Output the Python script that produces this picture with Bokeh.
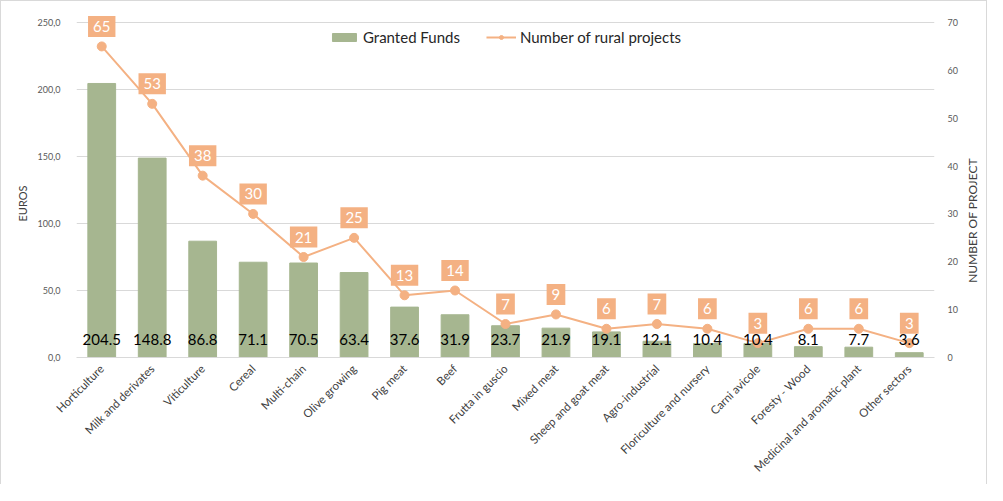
import math
from bokeh.plotting import figure
from bokeh.layouts import row
from bokeh.models import (Range1d, LinearAxis, ColumnDataSource, Legend, LegendItem, FixedTicker,
                          CustomJSTickFormatter, Label)
from bokeh.core.properties import value
from bokeh.embed import file_html
from bokeh.resources import INLINE

categories = ["Horticulture", "Milk and derivates", "Viticulture", "Cereal", "Multi-chain",
              "Olive growing", "Pig meat", "Beef", "Frutta in guscio", "Mixed meat",
              "Sheep and goat meat", "Agro-industrial", "Floriculture and nursery",
              "Carni avicole", "Foresty - Wood", "Medicinal and aromatic plant", "Other sectors"]
granted_funds = [204.5, 148.8, 86.8, 71.1, 70.5, 63.4, 37.6, 31.9, 23.7, 21.9, 19.1, 12.1,
                 10.4, 10.4, 8.1, 7.7, 3.6]
rural_projects = [65, 53, 38, 30, 21, 25, 13, 14, 7, 9, 6, 7, 6, 3, 6, 6, 3]
left_ticks = [0, 50, 100, 150, 200, 250]
right_ticks = [0, 10, 20, 30, 40, 50, 60, 70]
left_title = "EUROS"
right_title = "NUMBER OF PROJECT"

FONT = "Lato"
BAR = "#A6B690"
ORANGE = "#F4B183"
H = 483

# headroom above the top tick so the topmost data label box is not clipped
LEFT_MAX, RIGHT_MAX = 250, 70
PLOT_PX = 349.0 - 14.0
HEAD_PX = 14.0

src = ColumnDataSource(dict(
    cat=categories,
    funds=granted_funds,
    funds_lbl=[f"{v:.1f}" for v in granted_funds],
    zero=[0] * len(categories),
    proj=rural_projects,
    proj_lbl=[str(v) for v in rural_projects],
))

p = figure(x_range=categories,
           y_range=Range1d(0, LEFT_MAX * (1 + HEAD_PX / PLOT_PX)),
           width=926, height=H,
           output_backend="svg", toolbar_location=None,
           min_border_left=35, min_border_right=21, min_border_top=7, min_border_bottom=127)
p.outline_line_color = None
p.background_fill_color = "white"
p.border_fill_color = "white"

p.extra_y_ranges = {"proj": Range1d(0, RIGHT_MAX * (1 + HEAD_PX / PLOT_PX))}

ya = p.yaxis[0]
ya.ticker = FixedTicker(ticks=left_ticks)
ya.formatter = CustomJSTickFormatter(code="return tick.toFixed(1).replace('.', ',');")
ya.axis_line_color = None
ya.major_tick_line_color = None
ya.minor_tick_line_color = None
ya.major_label_text_font = FONT
ya.major_label_text_font_size = "9px"
ya.major_label_text_color = "#595959"
ya.major_label_standoff = 10

ra = LinearAxis(y_range_name="proj", ticker=FixedTicker(ticks=right_ticks))
ra.axis_line_color = None
ra.major_tick_line_color = None
ra.minor_tick_line_color = None
ra.major_label_text_font = FONT
ra.major_label_text_font_size = "9px"
ra.major_label_text_color = "#595959"
ra.major_label_standoff = 7
p.add_layout(ra, "right")

xa = p.xaxis[0]
xa.major_label_orientation = math.pi / 4
xa.major_label_text_font = FONT
xa.major_label_text_font_size = "11.5px"
xa.major_label_text_color = "#404040"
xa.axis_line_color = "#d9d9d9"
xa.major_tick_line_color = None
xa.minor_tick_line_color = None
xa.major_label_standoff = 3

p.xgrid.grid_line_color = None
p.ygrid.grid_line_color = "#d9d9d9"
p.ygrid.grid_line_width = 1

bars = p.vbar(x="cat", top="funds", width=0.55, source=src, fill_color=BAR, line_color=BAR)

ln = p.line(x="cat", y="proj", source=src, y_range_name="proj", line_color=ORANGE, line_width=2)
pts = p.scatter(x="cat", y="proj", source=src, y_range_name="proj", size=9,
                fill_color=ORANGE, line_color=ORANGE)

p.text(x="cat", y="proj", text="proj_lbl", source=src, y_range_name="proj", y_offset=-20,
       text_align="center", text_baseline="middle", text_font=value(FONT),
       text_font_size="15px", text_color="white",
       background_fill_color=ORANGE, padding=5)

p.text(x="cat", y="zero", text="funds_lbl", source=src, y_offset=-18,
       text_align="center", text_baseline="middle", text_font=value(FONT),
       text_font_size="15px", text_color="black")

legend = Legend(items=[LegendItem(label="Granted Funds", renderers=[bars]),
                       LegendItem(label="Number of rural projects", renderers=[ln, pts])],
                orientation="horizontal", location="top_center",
                background_fill_alpha=0, border_line_color=None,
                label_text_font=FONT, label_text_font_size="15px", label_text_color="#262626",
                glyph_width=30, glyph_height=10, spacing=26, label_standoff=4,
                margin=20, padding=4)
p.add_layout(legend)


def title_strip(width, text, x, y, size):
    s = figure(width=width, height=H, output_backend="svg", toolbar_location=None,
               x_range=Range1d(0, 1), y_range=Range1d(0, 1),
               x_axis_type=None, y_axis_type=None, min_border=0)
    s.grid.visible = False
    s.outline_line_color = None
    s.border_fill_color = "white"
    s.add_layout(Label(x=x, y=y, x_units="screen", y_units="screen", text=text,
                       angle=math.pi / 2, text_align="center", text_baseline="middle",
                       text_font=FONT, text_font_size=size, text_color="#404040"))
    return s


left_strip = title_strip(33, left_title, 21, 154, "11px")
right_strip = title_strip(26, right_title, 12, 137, "12px")

layout = row(left_strip, p, right_strip, spacing=0,
             styles={"border": "1px solid #d9d9d9", "border-bottom": "none"})

open("out.html", "w").write(file_html(layout, INLINE))
